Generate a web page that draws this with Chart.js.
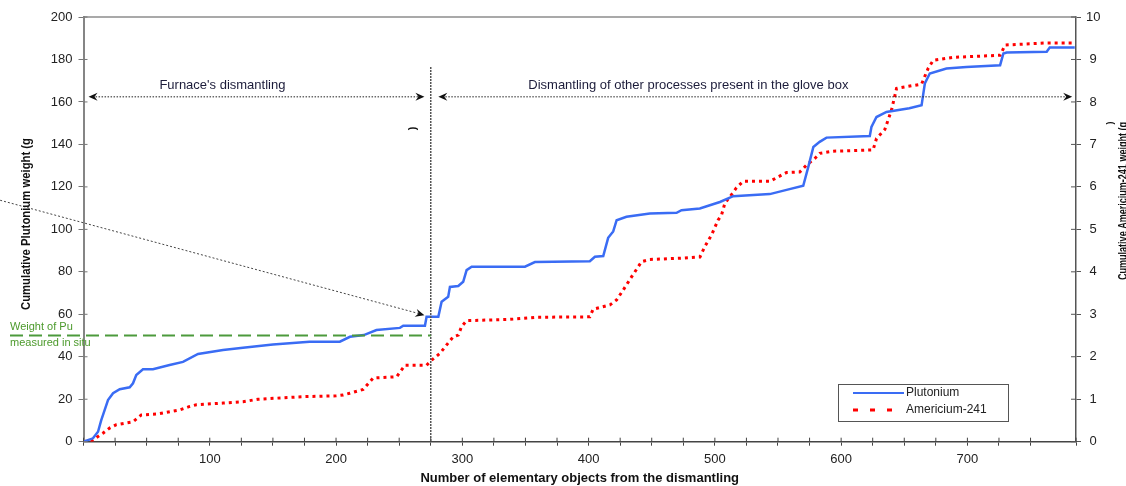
<!DOCTYPE html>
<html lang="en">
<head>
  <meta charset="UTF-8">
  <title>Cumulative Pu and Am-241 weight</title>
  <script src="https://cdn.jsdelivr.net/npm/chart.js"></script>
  <style>
    body { margin: 0; background: #fff; }
    #wrap { width: 1126px; height: 486px; position: relative; }
  </style>
</head>
<body>
  <div id="wrap"><canvas id="chart"></canvas></div>

  <script>
    // Plutonium (g)
    const puX = [0, 7.5, 11.5, 14, 16.8, 19.4, 23.4, 28.7, 36.6, 39.2, 41.8, 47.1, 55, 68.2, 78.8, 90.7, 110.5, 126.3, 150, 179,
      203, 211, 222, 232, 250.6, 253.2, 270.4, 271.7, 281, 283.6, 288.8, 290.2, 296.8, 300.7, 303.4, 307.4, 349.6, 357.5, 401, 405,
      411.6, 415.5, 419.5, 422.2, 430, 448.5, 469.7, 473.6, 488.1, 504, 514.5, 543.5, 556.8, 570, 574, 578, 583, 588.4, 622.7, 624,
      628, 635.9, 654, 663.7, 666.3, 670.2, 683.4, 699.2, 725.9, 728.5, 731.1, 762.8, 765.2, 785];
    const puY = [0, 1.6, 4.7, 10, 15, 19.6, 22.8, 24.7, 25.6, 27.5, 31.4, 34.1, 34.1, 36.1, 37.6, 41.3, 43.2, 44.2, 45.8, 47.1,
      47.1, 49.4, 50.2, 52.6, 53.6, 54.6, 54.6, 58.8, 58.8, 65.9, 68.2, 72.9, 73.3, 75.3, 80.8, 82.4, 82.4, 84.6, 85, 87.1,
      87.4, 96, 99, 104.3, 105.9, 107.5, 107.8, 109, 109.8, 112.9, 115.6, 116.6, 118.6, 120.5, 129.4, 138.8, 141.2, 143.2, 144, 148.2,
      152.9, 155.3, 157, 158.4, 168.7, 173.4, 175.7, 176.5, 177.3, 182.8, 183.3, 183.6, 185.6, 185.6];

    // Americium-241 (g), right axis
    const amX = [0, 7.5, 15.4, 20.7, 26, 39.2, 45.8, 57.7, 76.2, 84.1, 89.4, 110.5, 126.3, 138.2, 173.8, 200.2, 205.7, 210.8, 221.5, 229.5,
      248, 254.6, 271.7, 275.7, 282.3, 287.6, 292.8, 296.8, 299.4, 303.4, 337.7, 358.8, 401, 403.6, 416.9, 422.2, 427.4, 434, 442, 448.5,
      472.3, 488.2, 492, 497.4, 502.6, 505.3, 507.9, 514, 517.1, 522.4, 543.5, 556.8, 567.2, 572.5, 579.2, 583.1, 593.7, 625.3, 628, 634.6,
      639.9, 643.9, 651.8, 663.7, 668.9, 672.9, 688.7, 725.9, 729.9, 762.8, 785];
    const amY = [0, 0.04, 0.2, 0.32, 0.4, 0.47, 0.63, 0.65, 0.75, 0.83, 0.87, 0.91, 0.94, 1.0, 1.06, 1.08, 1.1, 1.14, 1.23, 1.5,
      1.53, 1.8, 1.8, 1.92, 2.08, 2.28, 2.47, 2.51, 2.71, 2.85, 2.88, 2.93, 2.94, 3.12, 3.22, 3.34, 3.57, 3.88, 4.24, 4.29,
      4.32, 4.35, 4.59, 4.87, 5.22, 5.34, 5.61, 5.85, 5.98, 6.13, 6.13, 6.34, 6.35, 6.51, 6.67, 6.79, 6.84, 6.87, 7.14, 7.35,
      7.81, 8.32, 8.36, 8.42, 8.79, 8.98, 9.05, 9.1, 9.34, 9.39, 9.39];

    const seriesNames = ['Plutonium', 'Americium-241'];
    const splitAt = 275;       // end of furnace dismantling
    const puInSitu = 50;       // weight of Pu measured in situ

    function points(xs, ys) {
      return xs.map((x, i) => ({ x: x, y: ys[i] }));
    }

    function arrowHead(ctx, x, y, dir) {
      ctx.save();
      ctx.translate(x, y);
      ctx.rotate(dir);
      ctx.beginPath();
      ctx.moveTo(0, 0);
      ctx.lineTo(-9, -4);
      ctx.lineTo(-6, 0);
      ctx.lineTo(-9, 4);
      ctx.closePath();
      ctx.fill();
      ctx.restore();
    }

    // vertical text reading upwards, squeezed to a given length (narrow font in the original)
    function upText(ctx, text, cx, cy, len, font) {
      ctx.save();
      ctx.font = font;
      const w = ctx.measureText(text).width;
      ctx.translate(cx, cy);
      ctx.rotate(-Math.PI / 2);
      ctx.scale(len / w, 1);
      ctx.textAlign = 'center';
      ctx.textBaseline = 'middle';
      ctx.fillText(text, 0, 0);
      ctx.restore();
    }

    const decorations = {
      id: 'decorations',
      afterDatasetsDraw(chart) {
        const ctx = chart.ctx;
        const area = chart.chartArea;
        const xs = chart.scales.x, ys = chart.scales.y;
        ctx.save();

        // top frame line
        ctx.strokeStyle = '#8c8c8c';
        ctx.lineWidth = 1.5;
        ctx.beginPath();
        ctx.moveTo(area.left, area.top);
        ctx.lineTo(area.right, area.top);
        ctx.stroke();

        // inner half of the tick marks
        ctx.lineWidth = 1;
        ctx.strokeStyle = '#444';
        xs.ticks.forEach(t => {
          const px = xs.getPixelForValue(t.value);
          ctx.beginPath(); ctx.moveTo(px, area.bottom); ctx.lineTo(px, area.bottom - 4); ctx.stroke();
        });
        ctx.strokeStyle = '#777';
        ys.ticks.forEach(t => {
          const py = ys.getPixelForValue(t.value);
          ctx.beginPath(); ctx.moveTo(area.left, py); ctx.lineTo(area.left + 4, py); ctx.stroke();
        });
        ctx.strokeStyle = '#555';
        chart.scales.y2.ticks.forEach(t => {
          const py = chart.scales.y2.getPixelForValue(t.value);
          ctx.beginPath(); ctx.moveTo(area.right, py); ctx.lineTo(area.right - 5, py); ctx.stroke();
        });

        // vertical separator
        const sx = xs.getPixelForValue(splitAt);
        ctx.strokeStyle = '#555';
        ctx.lineWidth = 1.5;
        ctx.setLineDash([2, 1]);
        ctx.beginPath();
        ctx.moveTo(sx, ys.getPixelForValue(176.5));
        ctx.lineTo(sx, area.bottom);
        ctx.stroke();

        // green in-situ line
        ctx.strokeStyle = '#4c9a3c';
        ctx.lineWidth = 2;
        ctx.setLineDash([13, 6]);
        const gy = ys.getPixelForValue(puInSitu);
        ctx.beginPath();
        ctx.moveTo(10, gy);
        ctx.lineTo(sx, gy);
        ctx.stroke();

        // dotted arrows for the two phases
        ctx.strokeStyle = '#222';
        ctx.fillStyle = '#111';
        ctx.lineWidth = 1;
        ctx.setLineDash([1.5, 1.5]);
        const ay = ys.getPixelForValue(162.4);
        const a1 = xs.getPixelForValue(4), a2 = xs.getPixelForValue(270);
        const b1 = xs.getPixelForValue(281), b2 = xs.getPixelForValue(783);
        ctx.beginPath();
        ctx.moveTo(a1 + 4, ay); ctx.lineTo(a2 - 4, ay);
        ctx.moveTo(b1 + 4, ay); ctx.lineTo(b2 - 4, ay);
        ctx.stroke();
        ctx.setLineDash([]);
        arrowHead(ctx, a1, ay, Math.PI);
        arrowHead(ctx, a2, ay, 0);
        arrowHead(ctx, b1, ay, Math.PI);
        arrowHead(ctx, b2, ay, 0);

        // diagonal pointer to the Pu curve
        const d1x = xs.getPixelForValue(-66), d1y = ys.getPixelForValue(113.7);
        const d2x = xs.getPixelForValue(270), d2y = ys.getPixelForValue(59.6);
        ctx.strokeStyle = '#444';
        ctx.setLineDash([2, 2]);
        ctx.beginPath();
        ctx.moveTo(d1x, d1y);
        ctx.lineTo(d2x - 5, d2y - 1.4);
        ctx.stroke();
        ctx.setLineDash([]);
        arrowHead(ctx, d2x, d2y, Math.atan2(d2y - d1y, d2x - d1x));

        // texts
        ctx.fillStyle = '#1c1c3a';
        ctx.font = "13px 'Liberation Sans', Arial, sans-serif";
        ctx.textAlign = 'center';
        ctx.textBaseline = 'middle';
        ctx.fillText("Furnace's dismantling", xs.getPixelForValue(110), ys.getPixelForValue(168));
        ctx.fillText('Dismantling of other processes present in the glove box', xs.getPixelForValue(479), ys.getPixelForValue(168));

        ctx.fillStyle = '#4c9a2c';
        ctx.font = "11px 'Liberation Sans', Arial, sans-serif";
        ctx.textAlign = 'left';
        ctx.fillText('Weight of Pu', 10, gy - 9);
        ctx.fillText('measured in situ', 10, gy + 7);

        // axis titles on both sides
        ctx.fillStyle = '#111';
        upText(ctx, 'Cumulative Plutonium weight (g', 26, 224, 172, "bold 13px 'Liberation Sans', Arial, sans-serif");
        upText(ctx, 'Cumulative Americium-241 weight (g', 1124, 201, 158, "bold 12px 'Liberation Sans', Arial, sans-serif");

        // stray closing brackets
        ctx.font = "bold 11px 'Liberation Sans', Arial, sans-serif";
        ctx.save();
        ctx.translate(xs.getPixelForValue(261), ys.getPixelForValue(147.5));
        ctx.rotate(-Math.PI / 2);
        ctx.textAlign = 'center';
        ctx.fillText(')', 0, 0);
        ctx.restore();
        ctx.save();
        ctx.translate(1111, 123);
        ctx.rotate(-Math.PI / 2);
        ctx.font = "bold 9px 'Liberation Sans', Arial, sans-serif";
        ctx.textAlign = 'center';
        ctx.fillText(')', 0, 0);
        ctx.restore();

        // legend box
        const lx = 838, ly = 384, lw = 170, lh = 37;
        ctx.fillStyle = '#fff';
        ctx.fillRect(lx, ly, lw, lh);
        ctx.strokeStyle = '#555';
        ctx.lineWidth = 1;
        ctx.strokeRect(lx + 0.5, ly + 0.5, lw, lh);
        chart.data.datasets.forEach((ds, i) => {
          const yy = ly + 9 + i * 17;
          ctx.strokeStyle = ds.borderColor;
          ctx.lineWidth = i === 0 ? 2 : 3;
          ctx.setLineDash(i === 0 ? [] : [5, 12]);
          ctx.beginPath();
          ctx.moveTo(lx + 15, yy);
          ctx.lineTo(lx + 66, yy);
          ctx.stroke();
          ctx.setLineDash([]);
          ctx.fillStyle = '#222';
          ctx.font = "12px 'Liberation Sans', Arial, sans-serif";
          ctx.textAlign = 'left';
          ctx.textBaseline = 'middle';
          ctx.fillText(ds.label, lx + 68, yy);
        });

        ctx.restore();
      }
    };

    Chart.defaults.font.family = "'Liberation Sans', Arial, sans-serif";
    Chart.defaults.color = '#222';

    new Chart(document.getElementById('chart'), {
      type: 'line',
      data: {
        datasets: [
          {
            label: seriesNames[0],
            data: points(puX, puY),
            yAxisID: 'y',
            borderColor: '#3a6cf4',
            borderWidth: 2.5,
            pointRadius: 0,
            tension: 0,
            fill: false
          },
          {
            label: seriesNames[1],
            data: points(amX, amY),
            yAxisID: 'y2',
            borderColor: '#ff0000',
            borderWidth: 3,
            borderDash: [3, 4],
            pointRadius: 0,
            tension: 0,
            fill: false
          }
        ]
      },
      options: {
        responsive: true,
        maintainAspectRatio: false,
        animation: false,
        layout: { padding: { top: 17, left: 0, right: 0, bottom: 0 } },
        plugins: {
          legend: { display: false },
          tooltip: { enabled: false }
        },
        scales: {
          x: {
            type: 'linear',
            min: 0,
            max: 786,
            afterFit: s => { s.height = 44.3; },
            border: { color: '#444', width: 1.5 },
            grid: { drawOnChartArea: false, tickLength: 4, color: '#444' },
            ticks: {
              stepSize: 25,
              autoSkip: false,
              maxRotation: 0,
              padding: 6,
              font: { size: 13 },
              callback: v => (v > 0 && v % 100 === 0) ? v : ''
            },
            title: {
              display: true,
              text: 'Number of elementary objects from the dismantling',
              font: { size: 13, weight: 'bold' },
              color: '#111',
              padding: { top: 0, bottom: 0 }
            }
          },
          y: {
            position: 'left',
            min: 0,
            max: 200,
            afterFit: s => { s.width = 83.5; },
            border: { color: '#858585', width: 2 },
            grid: { drawOnChartArea: false, tickLength: 5, color: '#777' },
            ticks: { stepSize: 20, padding: 6, font: { size: 13 } }
          },
          y2: {
            position: 'right',
            min: 0,
            max: 10,
            afterFit: s => { s.width = 50; },
            border: { color: '#555', width: 1.5 },
            grid: { drawOnChartArea: false, tickLength: 5, color: '#555' },
            ticks: { stepSize: 1, padding: 5, crossAlign: 'center', font: { size: 13 } }
          }
        }
      },
      plugins: [decorations]
    });
  </script>
</body>
</html>
